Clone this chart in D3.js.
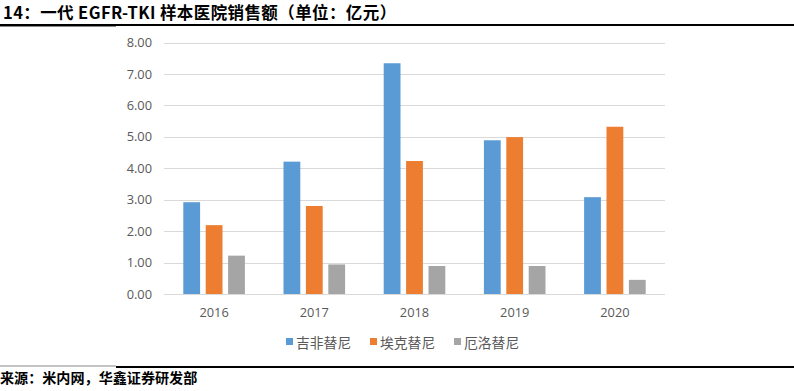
<!DOCTYPE html>
<html><head><meta charset="utf-8">
<script src="https://cdn.jsdelivr.net/npm/d3@7"></script>
<style>
body{margin:0;background:#fff;}
svg{display:block;}
</style></head>
<body>
<svg id="c" width="794" height="391"></svg>
<script>
const categories = ["2016","2017","2018","2019","2020"];
const seriesNames = ["吉非替尼","埃克替尼","厄洛替尼"];
const gefitinib = [2.92, 4.21, 7.34, 4.89, 3.08];
const icotinib  = [2.19, 2.80, 4.23, 4.99, 5.32];
const erlotinib = [1.22, 0.94, 0.89, 0.89, 0.45];
const yTicks = [0,1,2,3,4,5,6,7,8];
const titleText = "14：一代 EGFR-TKI 样本医院销售额（单位：亿元）";
const sourceText = "来源：米内网，华鑫证券研发部";

const seriesValues = [gefitinib, icotinib, erlotinib];
const colors = ["#5B9BD5","#ED7D31","#A5A5A5"];
const svg = d3.select("#c");
const cjk = "'Noto Sans CJK SC', 'Noto Sans', sans-serif";

// header
svg.append("text").attr("x",3).attr("y",19).text(titleText)
  .attr("font-family",cjk).attr("font-weight","bold").attr("font-size",16.5)
  .attr("letter-spacing",0.4).attr("fill","#000");
svg.append("rect").attr("x",0).attr("y",24).attr("width",794).attr("height",2).attr("fill","#000");
svg.append("rect").attr("x",0).attr("y",26).attr("width",116).attr("height",1).attr("fill","#888");

// footer
svg.append("rect").attr("x",0).attr("y",365.5).attr("width",116).attr("height",1).attr("fill","#888");
svg.append("rect").attr("x",116).attr("y",366).attr("width",678).attr("height",2).attr("fill","#000");
svg.append("text").attr("x",0).attr("y",383).text(sourceText)
  .attr("font-family",cjk).attr("font-weight","bold").attr("font-size",14.1).attr("fill","#000");

const x = d3.scaleBand().domain(categories).range([164,665]).padding(0);
const y = d3.scaleLinear().domain([0,8]).range([294,42.5]);
const xi = d3.scaleBand().domain(d3.range(3)).range([19.3, x.bandwidth()-19.3]).paddingInner(0.25);

// grid
svg.append("g").selectAll("line").data(yTicks).join("line")
  .attr("x1",164).attr("x2",665).attr("y1",d=>Math.round(y(d))+0.5).attr("y2",d=>Math.round(y(d))+0.5)
  .attr("stroke","#D9D9D9").attr("stroke-width",1);

// y labels
const yAxis = d3.axisLeft(y).tickValues(yTicks).tickFormat(d3.format(".2f")).tickSize(0).tickPadding(0);
const ya = svg.append("g").attr("transform","translate(152,0)").call(yAxis);
ya.select(".domain").remove();
ya.selectAll("text").attr("font-family","'Open Sans', sans-serif").attr("font-size",12.8).attr("fill","#595959");

// bars
const groups = svg.append("g").selectAll("g").data(categories).join("g")
  .attr("transform",d=>`translate(${x(d)},0)`);
groups.selectAll("rect").data((d,i)=>seriesValues.map((s,k)=>({k, v:s[i]}))).join("rect")
  .attr("x",d=>xi(d.k)).attr("width",xi.bandwidth())
  .attr("y",d=>y(d.v)).attr("height",d=>y(0)-y(d.v))
  .attr("fill",d=>colors[d.k]);

// x labels
const xAxis = d3.axisBottom(x).tickSize(0).tickPadding(0);
const xa = svg.append("g").attr("transform","translate(0,317)").call(xAxis);
xa.select(".domain").remove();
xa.selectAll("text").attr("dy",0).attr("font-family","'Open Sans', sans-serif").attr("font-size",12.8).attr("fill","#595959");

// legend
const legX = [286, 370, 454];
const lg = svg.append("g").selectAll("g").data(seriesNames).join("g")
  .attr("transform",(d,i)=>`translate(${legX[i]},0)`);
lg.append("rect").attr("x",0).attr("y",338).attr("width",7).attr("height",7).attr("fill",(d,i)=>colors[i]);
lg.append("text").attr("x",10).attr("y",347.5).text(d=>d)
  .attr("font-family",cjk).attr("font-size",13.8).attr("fill","#595959");
</script>
</body></html>
